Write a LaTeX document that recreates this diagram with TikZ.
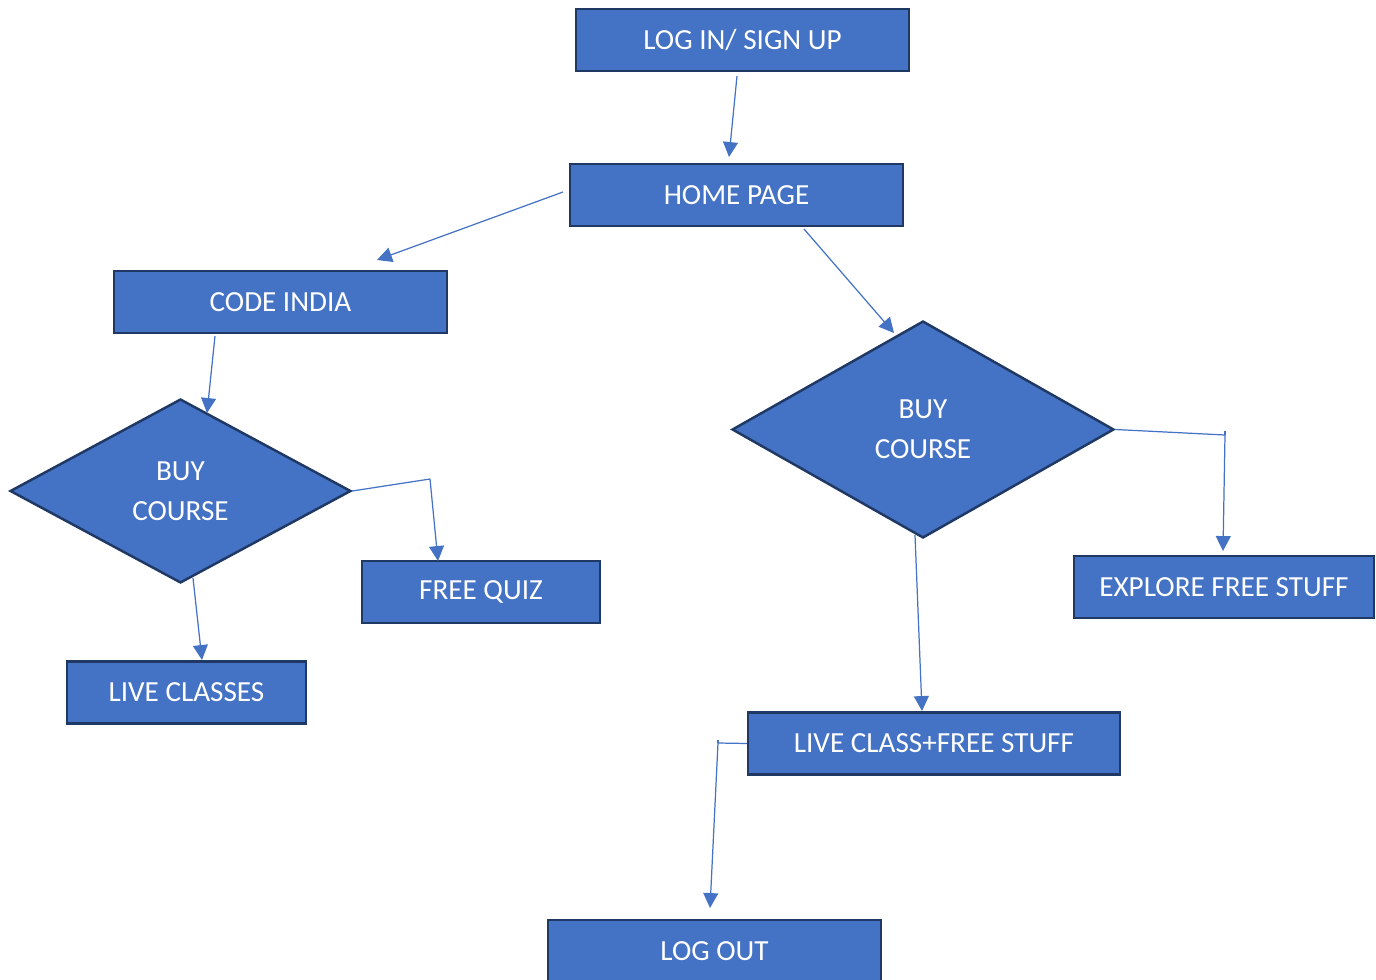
\documentclass[tikz,border=0pt]{standalone}
\usepackage{fontspec}
\setmainfont{Carlito}
\usepackage{xcolor}
\usepackage{tikz}
\usetikzlibrary{positioning,arrows.meta,shapes.geometric}

\definecolor{boxblue}{HTML}{4472C4}
\definecolor{boxedge}{HTML}{1F3864}

\begin{document}
\begin{tikzpicture}[
  x=0.02cm, y=-0.02cm,
  every node/.style={font=\fontsize{16.6}{19}\selectfont, text=white},
  % rectangular screens of the app
  screen/.style={
    draw=boxedge,
    fill=boxblue,
    line width=1.4pt,
    minimum width=6.66cm,
    minimum height=1.24cm,
    inner sep=0pt
  },
  % decision diamonds
  choice/.style={
    diamond,
    draw=boxedge,
    fill=boxblue,
    line width=1.4pt,
    align=center,
    font=\fontsize{16.6}{22.8}\selectfont,
    inner sep=0pt
  },
  arr/.style={-{Triangle[length=8.5pt, width=8.5pt]}, line width=0.7pt, draw=boxblue},
  seg/.style={line width=0.7pt, draw=boxblue}
]

\useasboundingbox (0,0) rectangle (1376,980);

% Top row
\node[screen] (login) at (742.5,40) {LOG IN/ SIGN UP};
\node[screen] (home) at (736.5,195) {HOME PAGE};

% Left branch
\node[screen] (codeindia) at (280.5,302) {CODE INDIA};
\node[choice, minimum width=6.82cm, minimum height=3.68cm] (buyL) at (180.5,491) {BUY\\COURSE};
\node[screen, minimum width=4.76cm] (quiz) at (481,592) {FREE QUIZ};
\node[screen, minimum width=4.78cm] (classes) at (186.5,692.5) {LIVE CLASSES};

% Right branch
\node[choice, minimum width=7.64cm, minimum height=4.34cm] (buyR) at (923,429.5) {BUY\\COURSE};
\node[screen, minimum width=6.0cm] (explore) at (1224,587) {EXPLORE FREE STUFF};
\node[screen, minimum width=7.44cm] (combo) at (934,743.5) {LIVE CLASS+FREE STUFF};
\node[screen] (logout) at (714.5,951) {LOG OUT};

% Free ends of the connectors
\coordinate (a1) at (737,76);   \coordinate (a2) at (729,157);
\coordinate (b1) at (563,192);  \coordinate (b2) at (377,260);
\coordinate (c1) at (804,229);  \coordinate (c2) at (894,333);
\coordinate (d1) at (215,336);  \coordinate (d2) at (207,413);
\coordinate (e1) at (430,479);  \coordinate (e2) at (438,561);
\coordinate (f1) at (193,578);  \coordinate (f2) at (202,660);
\coordinate (g1) at (1225,435); \coordinate (g0) at (1225,431); \coordinate (g2) at (1223,551);
\coordinate (h1) at (915,535);  \coordinate (h2) at (922,711);
\coordinate (k1) at (718,743);  \coordinate (k0) at (718,740); \coordinate (k2) at (710,908);

% Connectors
\draw[arr] (a1) -- (a2);
\draw[arr] (b1) -- (b2);
\draw[arr] (c1) -- (c2);
\draw[arr] (d1) -- (d2);
\draw[seg] (buyL.east) -- (e1);
\draw[arr] (e1) -- (e2);
\draw[arr] (f1) -- (f2);
\draw[seg] (buyR.east) -- (g1);
\draw[seg] (g0) -- (g1);
\draw[arr] (g1) -- (g2);
\draw[arr] (h1) -- (h2);
\draw[seg] (combo.west) -- (k1);
\draw[seg] (k0) -- (k1);
\draw[arr] (k1) -- (k2);

\end{tikzpicture}
\end{document}
